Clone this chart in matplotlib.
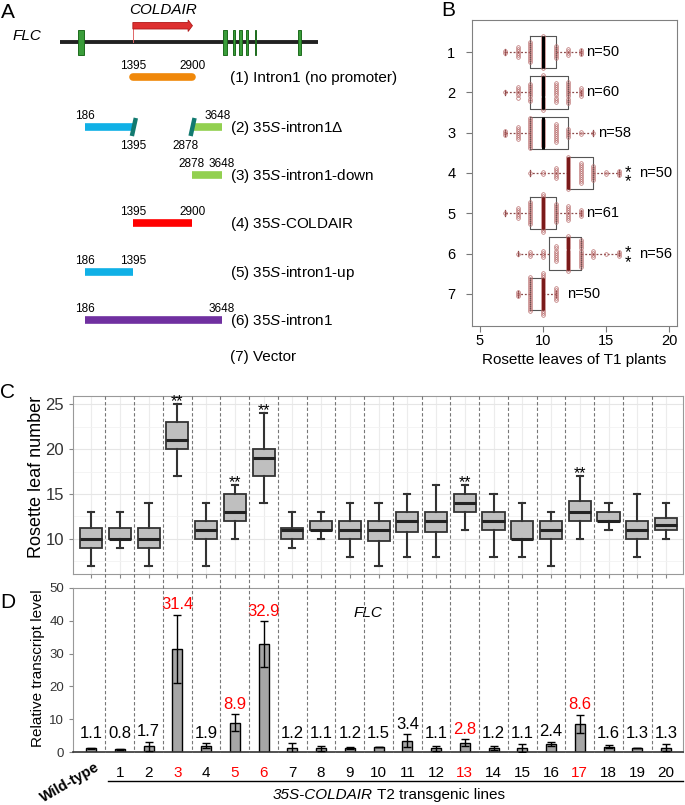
import numpy as np
import matplotlib.pyplot as plt
from matplotlib.patches import Rectangle, Polygon
from matplotlib.lines import Line2D
from matplotlib.transforms import blended_transform_factory

plt.rcParams['font.family'] = ['Liberation Sans', 'DejaVu Sans']
plt.rcParams['mathtext.fontset'] = 'custom'
plt.rcParams['mathtext.rm'] = 'Liberation Sans'
plt.rcParams['mathtext.it'] = 'Liberation Sans:italic'
plt.rcParams['mathtext.bf'] = 'Liberation Sans:bold'

# ---------------- data ----------------
# A: FLC locus (bp)
gene_span = [-445, 6070]
exon_start = [10, 3671, 3923, 4075, 4252, 4491, 5565]
exon_end = [160, 3772, 3974, 4150, 4302, 4517, 5641]
coldair_span = [1395, 2900]
seg_row = [1, 2, 2, 3, 4, 5, 6]
seg_start = [1395, 186, 2878, 2878, 1395, 186, 186]
seg_end = [2900, 1395, 3648, 3648, 2900, 1395, 3648]
seg_color = ['#f0880a', '#10b0e6', '#92d050', '#92d050', '#ff0000', '#10b0e6', '#7030a0']
break_pos = [1395, 2878]
construct_names = ['(1) Intron1 (no promoter)', '(2) 35$\\it{S}$-intron1Δ',
                   '(3) 35$\\it{S}$-intron1-down', '(4) 35$\\it{S}$-COLDAIR',
                   '(5) 35$\\it{S}$-intron1-up', '(6) 35$\\it{S}$-intron1', '(7) Vector']

# B: rosette leaves of T1 plants
b_whislo = [7, 7, 7, 9, 7, 8, 8]
b_q1 = [9, 9, 9, 12, 9, 10.5, 9]
b_med = [10, 10, 10, 12, 10, 12, 10]
b_q3 = [11, 12, 12, 14, 11, 13, 10]
b_whishi = [13, 13, 14, 16, 13, 16, 11]
b_n = [50, 60, 58, 50, 61, 56, 50]
b_sig = [3, 5]  # row index (0-based) with **
b_vals = [[7, 8, 9, 10, 11, 12, 13],
          [7, 8, 9, 10, 11, 12, 13],
          [7, 8, 9, 10, 11, 12, 13, 14],
          [9, 10, 11, 12, 13, 14, 15, 16],
          [7, 8, 9, 10, 11, 12, 13],
          [8, 9, 10, 11, 12, 13, 14, 15, 16],
          [8, 9, 10, 11]]
b_counts = [[2, 6, 11, 17, 7, 4, 3],
            [1, 6, 9, 18, 10, 11, 5],
            [3, 7, 16, 14, 10, 5, 2, 1],
            [1, 2, 6, 17, 11, 8, 2, 3],
            [1, 6, 12, 20, 10, 8, 4],
            [1, 3, 4, 8, 18, 14, 4, 1, 3],
            [3, 18, 22, 7]]

# C: rosette leaf number of T2 lines
line_labels = ['Wild-type'] + [str(i) for i in range(1, 21)]
c_whislo = [7, 9, 7, 17, 7, 10, 14, 9, 10, 8, 7, 8, 8, 11, 8, 8, 7, 10, 11, 8, 10]
c_q1 = [9, 10, 9, 20, 10, 12, 17, 10, 11, 10, 9.75, 10.75, 10.75, 13, 11, 10, 10, 12, 12, 10, 11]
c_med = [10, 10, 10, 21, 11, 13, 19, 11, 11, 11, 11, 12, 12, 14, 12, 10, 11, 13, 12, 11, 11.6]
c_q3 = [11.25, 11.25, 11.25, 23, 12, 15, 20, 11.25, 12, 12, 12, 13, 13, 15, 13, 12, 12, 14.25, 13, 12, 12.3]
c_whishi = [13, 13, 14, 25, 14, 16, 24, 13, 13, 14, 14, 15, 16, 16, 15, 14, 13, 17, 14, 15, 14]
sig_lines = [3, 5, 6, 13, 17]

# D: relative FLC transcript level
d_values = [1.1, 0.8, 1.7, 31.4, 1.9, 8.9, 32.9, 1.2, 1.1, 1.2, 1.5, 3.4, 1.1, 2.8, 1.2, 1.1, 2.4, 8.6, 1.6, 1.3, 1.3]
d_err = [0.1, 0.1, 1.4, 10.5, 0.7, 2.6, 7.0, 1.4, 0.8, 0.4, 0.0, 2.0, 0.8, 1.1, 0.7, 1.2, 0.7, 2.7, 0.5, 0.0, 1.1]

W, H = 685, 805
fx = lambda px: px / W
fy = lambda py: 1 - py / H

fig = plt.figure(figsize=(6.85, 8.05), dpi=100)

# ---------------- panel A ----------------
axA = fig.add_axes([0, fy(380), fx(440), 380 / H])
axA.set_xlim(-1960, 9151)
axA.set_ylim(380, 0)
axA.axis('off')
row_y = [42, 77, 127, 175, 223, 272, 320, 356]

axA.plot(gene_span, [row_y[0]] * 2, color='#222222', lw=2.8, solid_capstyle='butt', zorder=1)
for s, e in zip(exon_start, exon_end):
    axA.add_patch(Rectangle((s, 30), e - s, 25, facecolor='#3a9d3a', edgecolor='#1e6b1e', lw=0.7, zorder=2))

c0, c1 = coldair_span
hb = c1 - 110
axA.add_patch(Polygon([(c0, 22.5), (hb, 22.5), (hb, 20), (c1, 25.7), (hb, 31.5), (hb, 29), (c0, 29)],
                      closed=True, facecolor='#dd3030', edgecolor='#b01818', lw=0.6, zorder=3))
axA.plot([c0, c0], [29, row_y[0]], color='#e06666', lw=0.7, zorder=1)
axA.text((c0 + c1) / 2, 10, 'COLDAIR', style='italic', fontsize=11, ha='center', va='center')
axA.text(-1632, 36, 'FLC', style='italic', fontsize=11, va='center')

for i, (r, s, e, col) in enumerate(zip(seg_row, seg_start, seg_end, seg_color)):
    y = row_y[r]
    cap = 'round' if r == 1 else 'butt'
    axA.plot([s, e], [y, y], color=col, lw=5.5, solid_capstyle=cap, zorder=2)
    if r == 2:
        if s == 186:
            axA.text(s, y - 11, str(s), fontsize=8.5, ha='center', va='center')
            axA.text(e, y + 19, str(e), fontsize=8.5, ha='center', va='center')
        else:
            axA.text(s - 150, y + 19, str(s), fontsize=8.5, ha='center', va='center')
            axA.text(e - 120, y - 11, str(e), fontsize=8.5, ha='center', va='center')
    else:
        axA.text(s, y - 11, str(s), fontsize=8.5, ha='center', va='center')
        axA.text(e, y - 11, str(e), fontsize=8.5, ha='center', va='center')
for b in break_pos:
    axA.plot([b - 25, b + 75], [row_y[2] + 9, row_y[2] - 9], color='#127a70', lw=3.2,
             solid_capstyle='butt', zorder=3)
for i, name in enumerate(construct_names):
    axA.text(3848, row_y[i + 1] + 1, name, fontsize=11, va='center')

# ---------------- panel B ----------------
axB = fig.add_axes([fx(472), fy(326), 205 / W, 306 / H])
b_stats = [dict(whislo=a, q1=b, med=c, q3=d, whishi=e, fliers=[])
           for a, b, c, d, e in zip(b_whislo, b_q1, b_med, b_q3, b_whishi)]
bpB = axB.bxp(b_stats, positions=range(1, 8), widths=0.8, orientation='horizontal', showfliers=False,
              boxprops=dict(color='#555555', lw=0.8),
              whiskerprops=dict(color='#8b4a4a', ls=(0, (1.5, 1.5)), lw=0.9),
              capprops=dict(color='#8b4a4a', lw=0.9), capwidths=0.14,
              medianprops=dict(color='black', lw=2.2))
for i, m in enumerate(bpB['medians']):
    if i >= 3:
        m.set_color('#7a1a1a')
    m.set_zorder(4)
for i, (vals, cnts) in enumerate(zip(b_vals, b_counts)):
    for v, c in zip(vals, cnts):
        offs = (np.arange(c) - (c - 1) / 2) * 0.05
        axB.plot(np.full(c, v), i + 1 + offs, 'o', ms=2.6, mfc='none', mec='#b86a6a', mew=0.5, zorder=3)
for i in range(7):
    gap = 0.9 if i == 6 else 0.4
    if i in b_sig:
        axB.text(b_whishi[i] + 0.7, i + 1 + 0.1, '*\n*', fontsize=12, ha='center', va='center',
                 linespacing=0.55)
        axB.text(b_whishi[i] + 1.6, i + 1, f'n={b_n[i]}', fontsize=10.5, va='center')
    else:
        axB.text(b_whishi[i] + gap, i + 1, f'n={b_n[i]}', fontsize=10.5, va='center')
axB.set_xlim(4.4, 20.6)
axB.set_ylim(7.8, 0.2)
axB.set_xticks([5, 10, 15, 20])
axB.set_yticks(range(1, 8))
axB.set_yticklabels([str(i) for i in range(1, 8)])
axB.tick_params(length=4, color='#777777', labelsize=10.5, pad=2)
axB.tick_params(axis='y', pad=8)
axB.set_xlabel('Rosette leaves of T1 plants', fontsize=11, labelpad=3)
for sp in axB.spines.values():
    sp.set_color('#808080')
    sp.set_linewidth(0.8)

# ---------------- panel C ----------------
xpos = np.arange(len(line_labels))
axC = fig.add_axes([fx(73), fy(574), 610 / W, 178 / H])
c_stats = [dict(whislo=a, q1=b, med=c, q3=d, whishi=e, fliers=[])
           for a, b, c, d, e in zip(c_whislo, c_q1, c_med, c_q3, c_whishi)]
axC.bxp(c_stats, positions=xpos, widths=0.77, patch_artist=True, showfliers=False,
        boxprops=dict(facecolor='#bfbfbf', edgecolor='#333333', lw=1.3),
        whiskerprops=dict(color='#333333', lw=1.5), capprops=dict(color='#333333', lw=1.5),
        capwidths=0.22, medianprops=dict(color='#222222', lw=2.2))
for i in sig_lines:
    axC.text(xpos[i], c_whishi[i] + 0.3, '**', fontsize=11.5, ha='center', va='center')
axC.set_xlim(-0.63, 20.59)
axC.set_ylim(6.1, 25.9)
axC.set_yticks([10, 15, 20, 25])
axC.set_yticks([7.5, 12.5, 17.5, 22.5], minor=True)
axC.set_xticks(xpos)
axC.tick_params(axis='x', length=3, color='#888888', labelbottom=False)
axC.tick_params(axis='y', which='major', length=3, color='#888888', labelsize=12, labelcolor='#333333')
axC.tick_params(axis='y', which='minor', length=0)
axC.grid(axis='y', which='major', color='#e6e6e6', lw=0.8)
axC.grid(axis='y', which='minor', color='#f2f2f2', lw=0.6)
axC.grid(axis='x', which='major', color='#ececec', lw=0.8)
axC.set_axisbelow(True)
for sp in axC.spines.values():
    sp.set_color('#999999')
    sp.set_linewidth(0.8)

# ---------------- panel D ----------------
axD = fig.add_axes([fx(73), fy(752), 610 / W, 164 / H])
axD.bar(xpos, d_values, width=0.35, color='#a6a6a6', edgecolor='black', lw=1, zorder=2)
axD.errorbar(xpos, d_values, yerr=d_err, fmt='none', ecolor='black', elinewidth=1,
             capsize=3, capthick=1, zorder=3)
for i, (v, e) in enumerate(zip(d_values, d_err)):
    axD.text(xpos[i], max(v + e, 2.5) + 0.8, f'{v:.1f}', fontsize=12, ha='center', va='bottom',
             color='red' if i in sig_lines else 'black')
axD.text(9.63, 42.4, 'FLC', style='italic', fontsize=11, ha='center', va='center')
axD.set_xlim(-0.63, 20.59)
axD.set_ylim(0, 50)
axD.set_yticks(range(0, 51, 10))
axD.tick_params(axis='y', length=3, color='#888888', labelsize=9.5, labelcolor='#333333')
axD.set_xticks(xpos)
axD.set_xticklabels([''] + line_labels[1:])
axD.tick_params(axis='x', length=0, pad=10, labelsize=11)
for i, lab in enumerate(axD.get_xticklabels()):
    if i in sig_lines:
        lab.set_color('red')
for sp in ['left', 'top', 'right']:
    axD.spines[sp].set_color('#999999')
    axD.spines[sp].set_linewidth(0.8)
axD.spines['bottom'].set_color('#333333')
axD.spines['bottom'].set_linewidth(1.2)

trD = blended_transform_factory(axD.transData, axD.transAxes)
axD.text(0.15, -0.05, line_labels[0], fontsize=10.5, fontweight='bold', rotation=30,
         rotation_mode='anchor', ha='right', va='top', transform=trD)
axD.plot([0.6, 20.59], [-0.177, -0.177], color='black', lw=1, transform=trD, clip_on=False)
axD.text(9.81, -0.262, '35S-COLDAIR', style='italic', fontsize=11, ha='right', va='center', transform=trD)
axD.text(9.81, -0.262, ' T2 transgenic lines', fontsize=11, ha='left', va='center', transform=trD)

# dividers through C and D
trF = blended_transform_factory(axC.transData, fig.transFigure)
for k in range(len(line_labels) - 1):
    fig.add_artist(Line2D([k + 0.5, k + 0.5], [fy(396), fy(752)], transform=trF,
                          color='#777777', lw=0.8, ls=(0, (3, 2))))

# axis labels
fig.text(fx(37), fy(477), 'Rosette leaf number', rotation=90, fontsize=13, ha='center', va='center')
fig.text(fx(38), fy(668), 'Relative transcript level', rotation=90, fontsize=11, ha='center', va='center')

# panel letters
for lab, px, py in [('A', 8, 12), ('B', 448, 11), ('C', 8, 392), ('D', 8, 602)]:
    fig.text(fx(px), fy(py), lab, fontsize=15, ha='center', va='center')

fig.savefig('out.png', dpi=100)
